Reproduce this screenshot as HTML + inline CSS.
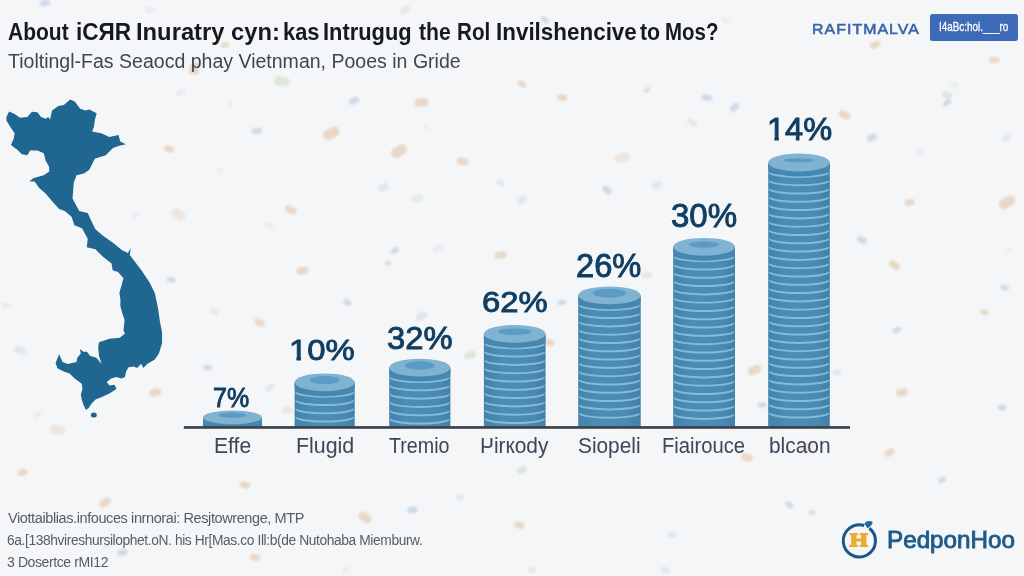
<!DOCTYPE html>
<html><head><meta charset="utf-8">
<style>
html,body{margin:0;padding:0;}
body{width:1024px;height:576px;overflow:hidden;background:#f4f6f8;position:relative;font-family:"Liberation Sans",sans-serif;}
.t{position:absolute;white-space:nowrap;line-height:1;transform-origin:0 0;}
svg{position:absolute;left:0;top:0;}
.one{display:inline-block;clip-path:polygon(0 0,100% 0,100% 0.715em,calc(0.34em + 0.7px) 0.715em,calc(0.34em + 0.7px) 100%,calc(0.2515em - 0.7px) 100%,calc(0.2515em - 0.7px) 0.715em,0 0.715em);}
#btn{position:absolute;left:930px;top:14px;width:88px;height:27px;background:#3e6bb7;border-radius:2.5px;}
</style></head><body>
<svg width="1024" height="576"><defs><filter id="bl" x="-50%" y="-50%" width="200%" height="200%"><feGaussianBlur stdDeviation="1.0"/></filter></defs>
<g filter="url(#bl)">
<rect x="188.70000000000002" y="68.35000000000001" width="10.2" height="6.1" rx="3.05" transform="rotate(4 193.8 71.4)" fill="#e0bf9e" opacity="0.55"/>
<rect x="274.15000000000003" y="76.7" width="15.3" height="9.2" rx="4.6" transform="rotate(8 281.8 81.3)" fill="#c4d3ad" opacity="0.45"/>
<rect x="175.20000000000002" y="89.55" width="10.2" height="6.1" rx="3.05" transform="rotate(-35 180.3 92.6)" fill="#dcdfe3" opacity="0.4"/>
<rect x="226.6" y="101.75" width="6.8" height="4.1" rx="2.05" transform="rotate(27 230 103.8)" fill="#dcdfe3" opacity="0.4"/>
<rect x="348.9" y="97.65" width="10.2" height="6.1" rx="3.05" transform="rotate(-21 354 100.7)" fill="#adc5de" opacity="0.55"/>
<rect x="414.9" y="98.4" width="13.6" height="8.2" rx="4.1" transform="rotate(-2 421.7 102.5)" fill="#e0bf9e" opacity="0.55"/>
<rect x="251.9" y="127.95" width="10.2" height="6.1" rx="3.05" transform="rotate(-2 257 131)" fill="#adc5de" opacity="0.55"/>
<rect x="323.0" y="128.1" width="17.0" height="10.2" rx="5.1" transform="rotate(-28 331.5 133.2)" fill="#e0bf9e" opacity="0.55"/>
<rect x="422.6" y="124.35000000000001" width="6.8" height="4.1" rx="2.05" transform="rotate(29 426 126.4)" fill="#dcdfe3" opacity="0.4"/>
<rect x="163.9" y="145.95" width="10.2" height="6.1" rx="3.05" transform="rotate(19 169 149)" fill="#e0bf9e" opacity="0.55"/>
<rect x="390.7" y="146.1" width="17.0" height="10.2" rx="5.1" transform="rotate(-35 399.2 151.2)" fill="#e0bf9e" opacity="0.55"/>
<rect x="456.45" y="158.04999999999998" width="11.9" height="7.1" rx="3.55" transform="rotate(7 462.4 161.6)" fill="#e0bf9e" opacity="0.55"/>
<rect x="378.29999999999995" y="184.25" width="10.2" height="6.1" rx="3.05" transform="rotate(-38 383.4 187.3)" fill="#bdd0e3" opacity="0.4"/>
<rect x="411.25" y="195.04999999999998" width="11.9" height="7.1" rx="3.55" transform="rotate(-2 417.2 198.6)" fill="#cfdac2" opacity="0.35"/>
<rect x="496.45" y="180.25" width="8.5" height="5.1" rx="2.55" transform="rotate(30 500.7 182.8)" fill="#bdd0e3" opacity="0.4"/>
<rect x="170.35" y="209.8" width="15.3" height="9.2" rx="4.6" transform="rotate(34 178 214.4)" fill="#e4cbb2" opacity="0.38"/>
<rect x="284.95" y="206.35" width="11.9" height="7.1" rx="3.55" transform="rotate(24 290.9 209.9)" fill="#e0bf9e" opacity="0.55"/>
<rect x="263.2" y="222.64999999999998" width="10.2" height="6.1" rx="3.05" transform="rotate(35 268.3 225.7)" fill="#dcdfe3" opacity="0.4"/>
<rect x="390.45" y="247.95" width="8.5" height="5.1" rx="2.55" transform="rotate(-32 394.7 250.5)" fill="#adc5de" opacity="0.55"/>
<rect x="432.4" y="245.14999999999998" width="10.2" height="6.1" rx="3.05" transform="rotate(-23 437.5 248.2)" fill="#dcdfe3" opacity="0.4"/>
<rect x="494.75" y="251.45" width="11.9" height="7.1" rx="3.55" transform="rotate(-5 500.7 255)" fill="#e0bf9e" opacity="0.55"/>
<rect x="384.5" y="261.05" width="6.8" height="4.1" rx="2.05" transform="rotate(-16 387.9 263.1)" fill="#e0bf9e" opacity="0.55"/>
<rect x="296.15000000000003" y="267.25" width="11.9" height="7.1" rx="3.55" transform="rotate(-9 302.1 270.8)" fill="#e0bf9e" opacity="0.55"/>
<rect x="167.05" y="277.25" width="8.5" height="5.1" rx="2.55" transform="rotate(7 171.3 279.8)" fill="#adc5de" opacity="0.55"/>
<rect x="343.05" y="299.84999999999997" width="8.5" height="5.1" rx="2.55" transform="rotate(32 347.3 302.4)" fill="#adc5de" opacity="0.55"/>
<rect x="209.95" y="308.84999999999997" width="8.5" height="5.1" rx="2.55" transform="rotate(34 214.2 311.4)" fill="#e4cbb2" opacity="0.38"/>
<rect x="253.35000000000002" y="319.15" width="11.9" height="7.1" rx="3.55" transform="rotate(39 259.3 322.7)" fill="#e4cbb2" opacity="0.38"/>
<rect x="415.75" y="312.45" width="11.9" height="7.1" rx="3.55" transform="rotate(-27 421.7 316)" fill="#bdd0e3" opacity="0.4"/>
<rect x="517.75" y="81.45" width="8.5" height="5.1" rx="2.55" transform="rotate(37 522 84)" fill="#e0bf9e" opacity="0.55"/>
<rect x="556.9" y="94.45" width="10.2" height="6.1" rx="3.05" transform="rotate(6 562 97.5)" fill="#e0bf9e" opacity="0.55"/>
<rect x="643.6" y="87.95" width="6.8" height="4.1" rx="2.05" transform="rotate(-23 647 90)" fill="#e0bf9e" opacity="0.55"/>
<rect x="701.9" y="94.45" width="10.2" height="6.1" rx="3.05" transform="rotate(6 707 97.5)" fill="#adc5de" opacity="0.55"/>
<rect x="729.4" y="104.45" width="10.2" height="6.1" rx="3.05" transform="rotate(-35 734.5 107.5)" fill="#adc5de" opacity="0.55"/>
<rect x="686.9" y="119.45" width="10.2" height="6.1" rx="3.05" transform="rotate(39 692 122.5)" fill="#e4cbb2" opacity="0.38"/>
<rect x="838.55" y="111.45" width="11.9" height="7.1" rx="3.55" transform="rotate(24 844.5 115)" fill="#e0bf9e" opacity="0.55"/>
<rect x="866.9" y="134.45" width="10.2" height="6.1" rx="3.05" transform="rotate(-28 872 137.5)" fill="#adc5de" opacity="0.55"/>
<rect x="941.9" y="91.95" width="10.2" height="6.1" rx="3.05" transform="rotate(22 947 95)" fill="#c4d3ad" opacity="0.45"/>
<rect x="942.75" y="99.95" width="8.5" height="5.1" rx="2.55" transform="rotate(-36 947 102.5)" fill="#adc5de" opacity="0.55"/>
<rect x="1002.75" y="134.95" width="8.5" height="5.1" rx="2.55" transform="rotate(-36 1007 137.5)" fill="#bdd0e3" opacity="0.4"/>
<rect x="614.35" y="152.9" width="15.3" height="9.2" rx="4.6" transform="rotate(-14 622 157.5)" fill="#e4cbb2" opacity="0.38"/>
<rect x="915.25" y="149.95" width="8.5" height="5.1" rx="2.55" transform="rotate(38 919.5 152.5)" fill="#dcdfe3" opacity="0.4"/>
<rect x="601.9" y="186.95" width="10.2" height="6.1" rx="3.05" transform="rotate(40 607 190)" fill="#adc5de" opacity="0.55"/>
<rect x="651.9" y="181.95" width="10.2" height="6.1" rx="3.05" transform="rotate(-34 657 185)" fill="#bdd0e3" opacity="0.4"/>
<rect x="516.9" y="196.95" width="10.2" height="6.1" rx="3.05" transform="rotate(-37 522 200)" fill="#bdd0e3" opacity="0.4"/>
<rect x="904.4" y="199.45" width="10.2" height="6.1" rx="3.05" transform="rotate(-7 909.5 202.5)" fill="#e0bf9e" opacity="0.55"/>
<rect x="998.5" y="197.4" width="17.0" height="10.2" rx="5.1" transform="rotate(-28 1007 202.5)" fill="#e0bf9e" opacity="0.55"/>
<rect x="856.9" y="236.95" width="10.2" height="6.1" rx="3.05" transform="rotate(29 862 240)" fill="#adc5de" opacity="0.55"/>
<rect x="888.55" y="261.45" width="11.9" height="7.1" rx="3.55" transform="rotate(37 894.5 265)" fill="#e0bf9e" opacity="0.55"/>
<rect x="641.9" y="271.95" width="10.2" height="6.1" rx="3.05" transform="rotate(-10 647 275)" fill="#e4cbb2" opacity="0.38"/>
<rect x="557.75" y="299.95" width="8.5" height="5.1" rx="2.55" transform="rotate(2 562 302.5)" fill="#adc5de" opacity="0.55"/>
<rect x="1000.25" y="284.95" width="8.5" height="5.1" rx="2.55" transform="rotate(8 1004.5 287.5)" fill="#adc5de" opacity="0.55"/>
<rect x="980.25" y="309.95" width="8.5" height="5.1" rx="2.55" transform="rotate(10 984.5 312.5)" fill="#e0bf9e" opacity="0.55"/>
<rect x="989.4" y="56.95" width="10.2" height="6.1" rx="3.05" transform="rotate(1 994.5 60)" fill="#e0bf9e" opacity="0.55"/>
<rect x="14.05" y="346.45" width="11.9" height="7.1" rx="3.55" transform="rotate(18 20 350)" fill="#bdd0e3" opacity="0.4"/>
<rect x="149.05" y="388.95" width="11.9" height="7.1" rx="3.55" transform="rotate(-16 155 392.5)" fill="#e0bf9e" opacity="0.55"/>
<rect x="203.25" y="364.95" width="8.5" height="5.1" rx="2.55" transform="rotate(2 207.5 367.5)" fill="#adc5de" opacity="0.55"/>
<rect x="265.75" y="384.95" width="8.5" height="5.1" rx="2.55" transform="rotate(-39 270 387.5)" fill="#bdd0e3" opacity="0.4"/>
<rect x="254.9" y="319.45" width="10.2" height="6.1" rx="3.05" transform="rotate(6 260 322.5)" fill="#e4cbb2" opacity="0.38"/>
<rect x="49.85" y="425.4" width="15.3" height="9.2" rx="4.6" transform="rotate(9 57.5 430)" fill="#e4cbb2" opacity="0.38"/>
<rect x="33.25" y="412.45" width="8.5" height="5.1" rx="2.55" transform="rotate(-35 37.5 415)" fill="#dcdfe3" opacity="0.4"/>
<rect x="282.4" y="406.95" width="10.2" height="6.1" rx="3.05" transform="rotate(-3 287.5 410)" fill="#e4cbb2" opacity="0.38"/>
<rect x="17.4" y="469.45" width="10.2" height="6.1" rx="3.05" transform="rotate(-12 22.5 472.5)" fill="#e0bf9e" opacity="0.55"/>
<rect x="239.9" y="481.95" width="10.2" height="6.1" rx="3.05" transform="rotate(19 245 485)" fill="#e0bf9e" opacity="0.55"/>
<rect x="99.05" y="498.95" width="11.9" height="7.1" rx="3.55" transform="rotate(-35 105 502.5)" fill="#e0bf9e" opacity="0.55"/>
<rect x="358.2" y="513.4" width="13.6" height="8.2" rx="4.1" transform="rotate(37 365 517.5)" fill="#e0bf9e" opacity="0.55"/>
<rect x="407.4" y="506.95" width="10.2" height="6.1" rx="3.05" transform="rotate(-3 412.5 510)" fill="#adc5de" opacity="0.55"/>
<rect x="455.75" y="494.95" width="8.5" height="5.1" rx="2.55" transform="rotate(-14 460 497.5)" fill="#bdd0e3" opacity="0.4"/>
<rect x="464.05" y="351.45" width="11.9" height="7.1" rx="3.55" transform="rotate(-15 470 355)" fill="#c4d3ad" opacity="0.45"/>
<rect x="249.9" y="554.45" width="10.2" height="6.1" rx="3.05" transform="rotate(8 255 557.5)" fill="#e0bf9e" opacity="0.55"/>
<rect x="117.4" y="549.45" width="10.2" height="6.1" rx="3.05" transform="rotate(-10 122.5 552.5)" fill="#adc5de" opacity="0.55"/>
<rect x="103.25" y="542.45" width="8.5" height="5.1" rx="2.55" transform="rotate(-38 107.5 545)" fill="#dcdfe3" opacity="0.4"/>
<rect x="544.4" y="339.45" width="10.2" height="6.1" rx="3.05" transform="rotate(19 549.5 342.5)" fill="#e0bf9e" opacity="0.55"/>
<rect x="747.7" y="365.9" width="13.6" height="8.2" rx="4.1" transform="rotate(-22 754.5 370)" fill="#e0bf9e" opacity="0.55"/>
<rect x="832.75" y="369.95" width="8.5" height="5.1" rx="2.55" transform="rotate(-21 837 372.5)" fill="#bdd0e3" opacity="0.4"/>
<rect x="757.75" y="402.45" width="8.5" height="5.1" rx="2.55" transform="rotate(-5 762 405)" fill="#adc5de" opacity="0.55"/>
<rect x="892.75" y="327.45" width="8.5" height="5.1" rx="2.55" transform="rotate(-32 897 330)" fill="#adc5de" opacity="0.55"/>
<rect x="896.05" y="388.95" width="11.9" height="7.1" rx="3.55" transform="rotate(-13 902 392.5)" fill="#e0bf9e" opacity="0.55"/>
<rect x="997.75" y="404.95" width="8.5" height="5.1" rx="2.55" transform="rotate(-5 1002 407.5)" fill="#adc5de" opacity="0.55"/>
<rect x="884.4" y="449.45" width="10.2" height="6.1" rx="3.05" transform="rotate(-26 889.5 452.5)" fill="#e0bf9e" opacity="0.55"/>
<rect x="741.05" y="453.95" width="11.9" height="7.1" rx="3.55" transform="rotate(12 747 457.5)" fill="#e0bf9e" opacity="0.55"/>
<rect x="800.2" y="443.4" width="13.6" height="8.2" rx="4.1" transform="rotate(-4 807 447.5)" fill="#e4cbb2" opacity="0.38"/>
<rect x="516.9" y="466.95" width="10.2" height="6.1" rx="3.05" transform="rotate(-30 522 470)" fill="#c4d3ad" opacity="0.45"/>
<rect x="937.75" y="477.45" width="8.5" height="5.1" rx="2.55" transform="rotate(-25 942 480)" fill="#adc5de" opacity="0.55"/>
<rect x="785.25" y="502.45" width="8.5" height="5.1" rx="2.55" transform="rotate(27 789.5 505)" fill="#adc5de" opacity="0.55"/>
<rect x="808.6" y="510.45" width="6.8" height="4.1" rx="2.05" transform="rotate(-18 812 512.5)" fill="#e0bf9e" opacity="0.55"/>
<rect x="514.4" y="521.95" width="10.2" height="6.1" rx="3.05" transform="rotate(11 519.5 525)" fill="#e0bf9e" opacity="0.55"/>
<rect x="667.75" y="532.45" width="8.5" height="5.1" rx="2.55" transform="rotate(-12 672 535)" fill="#bdd0e3" opacity="0.4"/>
<rect x="527.75" y="567.45" width="8.5" height="5.1" rx="2.55" transform="rotate(-17 532 570)" fill="#e4cbb2" opacity="0.38"/>
<rect x="39.9" y="-0.04999999999999982" width="10.2" height="6.1" rx="3.05" transform="rotate(-18 45 3)" fill="#adc5de" opacity="0.55"/>
<rect x="220.75" y="42.45" width="8.5" height="5.1" rx="2.55" transform="rotate(-7 225 45)" fill="#e0bf9e" opacity="0.55"/>
<rect x="144.9" y="6.95" width="10.2" height="6.1" rx="3.05" transform="rotate(-7 150 10)" fill="#dcdfe3" opacity="0.4"/>
<rect x="399.9" y="6.95" width="10.2" height="6.1" rx="3.05" transform="rotate(-28 405 10)" fill="#e4cbb2" opacity="0.38"/>
<rect x="466.6" y="32.95" width="6.8" height="4.1" rx="2.05" transform="rotate(35 470 35)" fill="#dcdfe3" opacity="0.4"/>
<rect x="540.75" y="17.45" width="8.5" height="5.1" rx="2.55" transform="rotate(39 545 20)" fill="#adc5de" opacity="0.55"/>
<rect x="720.75" y="17.45" width="8.5" height="5.1" rx="2.55" transform="rotate(36 725 20)" fill="#dcdfe3" opacity="0.4"/>
<rect x="869.9" y="41.95" width="10.2" height="6.1" rx="3.05" transform="rotate(-22 875 45)" fill="#e0bf9e" opacity="0.55"/>
<rect x="950.75" y="82.45" width="8.5" height="5.1" rx="2.55" transform="rotate(27 955 85)" fill="#dcdfe3" opacity="0.4"/>
<rect x="36.6" y="582.95" width="6.8" height="4.1" rx="2.05" transform="rotate(2 40 585)" fill="#dcdfe3" opacity="0.4"/>
<rect x="1.75" y="302.45" width="8.5" height="5.1" rx="2.55" transform="rotate(-13 6 305)" fill="#dcdfe3" opacity="0.4"/>
<rect x="130.75" y="212.45" width="8.5" height="5.1" rx="2.55" transform="rotate(-35 135 215)" fill="#dcdfe3" opacity="0.4"/>
<rect x="216.6" y="167.95" width="6.8" height="4.1" rx="2.05" transform="rotate(-17 220 170)" fill="#dcdfe3" opacity="0.4"/>
<rect x="340.75" y="567.45" width="8.5" height="5.1" rx="2.55" transform="rotate(-36 345 570)" fill="#dcdfe3" opacity="0.4"/>
<rect x="660.75" y="567.45" width="8.5" height="5.1" rx="2.55" transform="rotate(15 665 570)" fill="#bdd0e3" opacity="0.4"/>
<rect x="890.75" y="537.45" width="8.5" height="5.1" rx="2.55" transform="rotate(32 895 540)" fill="#dcdfe3" opacity="0.4"/>
<rect x="1006.6" y="247.95" width="6.8" height="4.1" rx="2.05" transform="rotate(6 1010 250)" fill="#dcdfe3" opacity="0.4"/>
<rect x="189.5" y="62.75" width="11" height="6.5" rx="3.25" transform="rotate(-20 195 66)" fill="#e0bf9e" opacity="0.5"/>
</g></svg>
<div id="btn"></div>
<svg width="1024" height="576">
<path fill="#1f6691" d="M6.4,116.9 L9.1,111.4 L14.6,114.1 L20,117.8 L27.3,116.9 L31.9,111.8 L37.4,112.3 L41,116.9 L45.6,118.7 L48.3,116.9 L50.1,119.6 L52,110.5 L58.3,105.9 L63.8,105 L70.2,99.6 L74.7,101.4 L80.2,108.7 L85.7,110.5 L89.3,109.6 L96.6,113.2 L94.8,120.5 L93.9,126.9 L92.1,131.5 L101.2,133.3 L109.4,136.9 L118.5,135.1 L120.3,141.5 L125.8,144.2 L118.5,146 L113,147.9 L105.7,155.2 L94.8,158.8 L91.2,166.1 L89.3,169.7 L83.9,173.4 L76.6,175.2 L73.8,182.5 L72.5,198.6 L77.2,207.2 L79.2,211 L87.7,212.9 L91.6,221.5 L95.4,229.2 L103,235.8 L112.6,242.5 L122.1,250.2 L127.9,253 L130.7,248.2 L129.8,254.9 L135.5,262.6 L141.25,270 L149.6,282.5 L154.8,292.9 L157.9,307.5 L160,322 L162.1,332.5 L162.1,342.9 L159,353.3 L154.8,359.6 L147.5,363.75 L143.3,367.9 L141.25,363.75 L137.1,367.9 L133.75,366.5 L128.5,367.3 L126,371.7 L125,376.9 L121.6,378.6 L116.4,376.9 L111.2,378.6 L106.8,382.1 L109.4,385.6 L114.6,384.7 L116.4,389 L109.4,393.4 L102.5,396.8 L95.6,399.4 L92.1,402.9 L88.6,408.1 L86,409.9 L83.4,404.7 L81.7,399.4 L80.8,394.2 L82.5,389 L81.7,383.8 L74.7,378.6 L69.5,373.4 L64.3,371.7 L57.4,368.2 L55.6,363 L57.4,358.6 L59.1,354.3 L62.6,362.1 L67.8,363.9 L76.5,362.1 L77.3,357.8 L80.8,353.4 L79.9,349.1 L83.4,351.7 L86.9,351.7 L90.3,356 L96.4,357.8 L101.6,363.9 L99,356 L98.2,347.4 L99,342.2 L109.4,338.7 L119.9,337.8 L125,333.5 L123.5,330.4 L124.6,320 L122.5,313.75 L120.4,306.5 L120.4,299.2 L119.4,292.9 L121.5,285.6 L123.5,278.3 L118,272 L112.6,270.2 L111.6,263.5 L103,256.8 L95.4,249.2 L86.8,247.3 L87.7,238.7 L82,228.2 L74.4,225.3 L71.5,216.7 L64.8,211 L59.1,209.1 L51.5,200.5 L45.6,193.4 L39.2,188 L34.6,181.6 L29.2,181.6 L33.7,178 L43.8,175.2 L49.2,171.6 L49.2,167 L45.6,160.6 L43.8,153.3 L37.4,150.6 L30.1,150.6 L27.3,155.2 L21.9,154.3 L17.3,149.7 L10.9,145.1 L13.7,138.8 L14.6,133.3 L10.9,127.8 L6.4,120.5 Z"/>
<ellipse cx="93.8" cy="415" rx="3" ry="2.5" fill="#1f6691"/>
</svg>
<svg width="1024" height="576">
<defs><clipPath id="cb"><rect x="0" y="0" width="1024" height="427"/></clipPath></defs><g clip-path="url(#cb)">
<defs><linearGradient id="bodyg" x1="0" x2="1" y1="0" y2="0"><stop offset="0" stop-color="#4383ab"/><stop offset="0.3" stop-color="#4b8db6"/><stop offset="0.75" stop-color="#4a8bb4"/><stop offset="1" stop-color="#4380a9"/></linearGradient></defs>
<path d="M203,417.40000000000003 L203,427 L262,427 L262,417.40000000000003 Z" fill="url(#bodyg)"/>
<path d="M203,417.40000000000003 A29.5,6.8 0 0 0 262,417.40000000000003 L262,422.40000000000003 A29.5,6.8 0 0 1 203,422.40000000000003 Z" fill="#4687b0"/>
<ellipse cx="232.5" cy="417.40000000000003" rx="29.5" ry="6.8" fill="#80b3d2"/>
<ellipse cx="232.5" cy="415.20000000000005" rx="13.864999999999998" ry="2.72" fill="#5c9bc3"/>
<path d="M294.6,382.29999999999995 L294.6,427 L354.7,427 L354.7,382.29999999999995 Z" fill="url(#bodyg)"/>
<path d="M296.1,392.19999999999993 A28.549999999999983,4.5 0 0 0 353.2,392.19999999999993" fill="none" stroke="#8fc2df" stroke-width="2.0" opacity="0.85"/>
<path d="M296.1,400.49999999999994 A28.549999999999983,4.5 0 0 0 353.2,400.49999999999994" fill="none" stroke="#8fc2df" stroke-width="2.0" opacity="0.85"/>
<path d="M296.1,408.79999999999995 A28.549999999999983,4.5 0 0 0 353.2,408.79999999999995" fill="none" stroke="#8fc2df" stroke-width="2.0" opacity="0.85"/>
<path d="M296.1,417.09999999999997 A28.549999999999983,4.5 0 0 0 353.2,417.09999999999997" fill="none" stroke="#8fc2df" stroke-width="2.0" opacity="0.85"/>
<path d="M294.6,382.29999999999995 A30.049999999999983,8.9 0 0 0 354.7,382.29999999999995 L354.7,387.29999999999995 A30.049999999999983,8.9 0 0 1 294.6,387.29999999999995 Z" fill="#4687b0"/>
<ellipse cx="324.65" cy="382.29999999999995" rx="30.049999999999983" ry="8.9" fill="#80b3d2"/>
<ellipse cx="324.65" cy="380.09999999999997" rx="15.024999999999991" ry="4.005" fill="#5c9bc3"/>
<path d="M389.2,367.65 L389.2,427 L450.4,427 L450.4,367.65 Z" fill="url(#bodyg)"/>
<path d="M390.7,377.54999999999995 A29.099999999999994,4.5 0 0 0 448.9,377.54999999999995" fill="none" stroke="#8fc2df" stroke-width="2.0" opacity="0.85"/>
<path d="M390.7,385.84999999999997 A29.099999999999994,4.5 0 0 0 448.9,385.84999999999997" fill="none" stroke="#8fc2df" stroke-width="2.0" opacity="0.85"/>
<path d="M390.7,394.15 A29.099999999999994,4.5 0 0 0 448.9,394.15" fill="none" stroke="#8fc2df" stroke-width="2.0" opacity="0.85"/>
<path d="M390.7,402.45 A29.099999999999994,4.5 0 0 0 448.9,402.45" fill="none" stroke="#8fc2df" stroke-width="2.0" opacity="0.85"/>
<path d="M390.7,410.75 A29.099999999999994,4.5 0 0 0 448.9,410.75" fill="none" stroke="#8fc2df" stroke-width="2.0" opacity="0.85"/>
<path d="M390.7,419.05 A29.099999999999994,4.5 0 0 0 448.9,419.05" fill="none" stroke="#8fc2df" stroke-width="2.0" opacity="0.85"/>
<path d="M389.2,367.65 A30.599999999999994,8.9 0 0 0 450.4,367.65 L450.4,372.65 A30.599999999999994,8.9 0 0 1 389.2,372.65 Z" fill="#4687b0"/>
<ellipse cx="419.79999999999995" cy="367.65" rx="30.599999999999994" ry="8.9" fill="#80b3d2"/>
<ellipse cx="419.79999999999995" cy="365.45" rx="14.993999999999996" ry="4.183" fill="#5c9bc3"/>
<path d="M483.9,333.9 L483.9,427 L545.6,427 L545.6,333.9 Z" fill="url(#bodyg)"/>
<path d="M485.4,343.79999999999995 A29.350000000000023,4.5 0 0 0 544.1,343.79999999999995" fill="none" stroke="#8fc2df" stroke-width="2.0" opacity="0.85"/>
<path d="M485.4,352.09999999999997 A29.350000000000023,4.5 0 0 0 544.1,352.09999999999997" fill="none" stroke="#8fc2df" stroke-width="2.0" opacity="0.85"/>
<path d="M485.4,360.4 A29.350000000000023,4.5 0 0 0 544.1,360.4" fill="none" stroke="#8fc2df" stroke-width="2.0" opacity="0.85"/>
<path d="M485.4,368.7 A29.350000000000023,4.5 0 0 0 544.1,368.7" fill="none" stroke="#8fc2df" stroke-width="2.0" opacity="0.85"/>
<path d="M485.4,377.0 A29.350000000000023,4.5 0 0 0 544.1,377.0" fill="none" stroke="#8fc2df" stroke-width="2.0" opacity="0.85"/>
<path d="M485.4,385.3 A29.350000000000023,4.5 0 0 0 544.1,385.3" fill="none" stroke="#8fc2df" stroke-width="2.0" opacity="0.85"/>
<path d="M485.4,393.6 A29.350000000000023,4.5 0 0 0 544.1,393.6" fill="none" stroke="#8fc2df" stroke-width="2.0" opacity="0.85"/>
<path d="M485.4,401.90000000000003 A29.350000000000023,4.5 0 0 0 544.1,401.90000000000003" fill="none" stroke="#8fc2df" stroke-width="2.0" opacity="0.85"/>
<path d="M485.4,410.20000000000005 A29.350000000000023,4.5 0 0 0 544.1,410.20000000000005" fill="none" stroke="#8fc2df" stroke-width="2.0" opacity="0.85"/>
<path d="M485.4,418.50000000000006 A29.350000000000023,4.5 0 0 0 544.1,418.50000000000006" fill="none" stroke="#8fc2df" stroke-width="2.0" opacity="0.85"/>
<path d="M483.9,333.9 A30.850000000000023,8.9 0 0 0 545.6,333.9 L545.6,338.9 A30.850000000000023,8.9 0 0 1 483.9,338.9 Z" fill="#4687b0"/>
<ellipse cx="514.75" cy="333.9" rx="30.850000000000023" ry="8.9" fill="#80b3d2"/>
<ellipse cx="514.75" cy="331.7" rx="16.659000000000013" ry="3.293" fill="#5c9bc3"/>
<path d="M578.2,295.4 L578.2,427 L640.7,427 L640.7,295.4 Z" fill="url(#bodyg)"/>
<path d="M579.7,305.29999999999995 A29.75,4.5 0 0 0 639.2,305.29999999999995" fill="none" stroke="#8fc2df" stroke-width="2.0" opacity="0.85"/>
<path d="M579.7,313.59999999999997 A29.75,4.5 0 0 0 639.2,313.59999999999997" fill="none" stroke="#8fc2df" stroke-width="2.0" opacity="0.85"/>
<path d="M579.7,321.9 A29.75,4.5 0 0 0 639.2,321.9" fill="none" stroke="#8fc2df" stroke-width="2.0" opacity="0.85"/>
<path d="M579.7,330.2 A29.75,4.5 0 0 0 639.2,330.2" fill="none" stroke="#8fc2df" stroke-width="2.0" opacity="0.85"/>
<path d="M579.7,338.5 A29.75,4.5 0 0 0 639.2,338.5" fill="none" stroke="#8fc2df" stroke-width="2.0" opacity="0.85"/>
<path d="M579.7,346.8 A29.75,4.5 0 0 0 639.2,346.8" fill="none" stroke="#8fc2df" stroke-width="2.0" opacity="0.85"/>
<path d="M579.7,355.1 A29.75,4.5 0 0 0 639.2,355.1" fill="none" stroke="#8fc2df" stroke-width="2.0" opacity="0.85"/>
<path d="M579.7,363.40000000000003 A29.75,4.5 0 0 0 639.2,363.40000000000003" fill="none" stroke="#8fc2df" stroke-width="2.0" opacity="0.85"/>
<path d="M579.7,371.70000000000005 A29.75,4.5 0 0 0 639.2,371.70000000000005" fill="none" stroke="#8fc2df" stroke-width="2.0" opacity="0.85"/>
<path d="M579.7,380.00000000000006 A29.75,4.5 0 0 0 639.2,380.00000000000006" fill="none" stroke="#8fc2df" stroke-width="2.0" opacity="0.85"/>
<path d="M579.7,388.30000000000007 A29.75,4.5 0 0 0 639.2,388.30000000000007" fill="none" stroke="#8fc2df" stroke-width="2.0" opacity="0.85"/>
<path d="M579.7,396.6000000000001 A29.75,4.5 0 0 0 639.2,396.6000000000001" fill="none" stroke="#8fc2df" stroke-width="2.0" opacity="0.85"/>
<path d="M579.7,404.9000000000001 A29.75,4.5 0 0 0 639.2,404.9000000000001" fill="none" stroke="#8fc2df" stroke-width="2.0" opacity="0.85"/>
<path d="M579.7,413.2000000000001 A29.75,4.5 0 0 0 639.2,413.2000000000001" fill="none" stroke="#8fc2df" stroke-width="2.0" opacity="0.85"/>
<path d="M578.2,295.4 A31.25,8.9 0 0 0 640.7,295.4 L640.7,300.4 A31.25,8.9 0 0 1 578.2,300.4 Z" fill="#4687b0"/>
<ellipse cx="609.45" cy="295.4" rx="31.25" ry="8.9" fill="#80b3d2"/>
<ellipse cx="609.45" cy="293.2" rx="16.5625" ry="4.45" fill="#5c9bc3"/>
<path d="M673.2,246.8 L673.2,427 L735,427 L735,246.8 Z" fill="url(#bodyg)"/>
<path d="M674.7,256.70000000000005 A29.399999999999977,4.5 0 0 0 733.5,256.70000000000005" fill="none" stroke="#8fc2df" stroke-width="2.0" opacity="0.85"/>
<path d="M674.7,265.00000000000006 A29.399999999999977,4.5 0 0 0 733.5,265.00000000000006" fill="none" stroke="#8fc2df" stroke-width="2.0" opacity="0.85"/>
<path d="M674.7,273.30000000000007 A29.399999999999977,4.5 0 0 0 733.5,273.30000000000007" fill="none" stroke="#8fc2df" stroke-width="2.0" opacity="0.85"/>
<path d="M674.7,281.6000000000001 A29.399999999999977,4.5 0 0 0 733.5,281.6000000000001" fill="none" stroke="#8fc2df" stroke-width="2.0" opacity="0.85"/>
<path d="M674.7,289.9000000000001 A29.399999999999977,4.5 0 0 0 733.5,289.9000000000001" fill="none" stroke="#8fc2df" stroke-width="2.0" opacity="0.85"/>
<path d="M674.7,298.2000000000001 A29.399999999999977,4.5 0 0 0 733.5,298.2000000000001" fill="none" stroke="#8fc2df" stroke-width="2.0" opacity="0.85"/>
<path d="M674.7,306.5000000000001 A29.399999999999977,4.5 0 0 0 733.5,306.5000000000001" fill="none" stroke="#8fc2df" stroke-width="2.0" opacity="0.85"/>
<path d="M674.7,314.8000000000001 A29.399999999999977,4.5 0 0 0 733.5,314.8000000000001" fill="none" stroke="#8fc2df" stroke-width="2.0" opacity="0.85"/>
<path d="M674.7,323.10000000000014 A29.399999999999977,4.5 0 0 0 733.5,323.10000000000014" fill="none" stroke="#8fc2df" stroke-width="2.0" opacity="0.85"/>
<path d="M674.7,331.40000000000015 A29.399999999999977,4.5 0 0 0 733.5,331.40000000000015" fill="none" stroke="#8fc2df" stroke-width="2.0" opacity="0.85"/>
<path d="M674.7,339.70000000000016 A29.399999999999977,4.5 0 0 0 733.5,339.70000000000016" fill="none" stroke="#8fc2df" stroke-width="2.0" opacity="0.85"/>
<path d="M674.7,348.00000000000017 A29.399999999999977,4.5 0 0 0 733.5,348.00000000000017" fill="none" stroke="#8fc2df" stroke-width="2.0" opacity="0.85"/>
<path d="M674.7,356.3000000000002 A29.399999999999977,4.5 0 0 0 733.5,356.3000000000002" fill="none" stroke="#8fc2df" stroke-width="2.0" opacity="0.85"/>
<path d="M674.7,364.6000000000002 A29.399999999999977,4.5 0 0 0 733.5,364.6000000000002" fill="none" stroke="#8fc2df" stroke-width="2.0" opacity="0.85"/>
<path d="M674.7,372.9000000000002 A29.399999999999977,4.5 0 0 0 733.5,372.9000000000002" fill="none" stroke="#8fc2df" stroke-width="2.0" opacity="0.85"/>
<path d="M674.7,381.2000000000002 A29.399999999999977,4.5 0 0 0 733.5,381.2000000000002" fill="none" stroke="#8fc2df" stroke-width="2.0" opacity="0.85"/>
<path d="M674.7,389.5000000000002 A29.399999999999977,4.5 0 0 0 733.5,389.5000000000002" fill="none" stroke="#8fc2df" stroke-width="2.0" opacity="0.85"/>
<path d="M674.7,397.80000000000024 A29.399999999999977,4.5 0 0 0 733.5,397.80000000000024" fill="none" stroke="#8fc2df" stroke-width="2.0" opacity="0.85"/>
<path d="M674.7,406.10000000000025 A29.399999999999977,4.5 0 0 0 733.5,406.10000000000025" fill="none" stroke="#8fc2df" stroke-width="2.0" opacity="0.85"/>
<path d="M674.7,414.40000000000026 A29.399999999999977,4.5 0 0 0 733.5,414.40000000000026" fill="none" stroke="#8fc2df" stroke-width="2.0" opacity="0.85"/>
<path d="M673.2,246.8 A30.899999999999977,8.9 0 0 0 735,246.8 L735,251.8 A30.899999999999977,8.9 0 0 1 673.2,251.8 Z" fill="#4687b0"/>
<ellipse cx="704.1" cy="246.8" rx="30.899999999999977" ry="8.9" fill="#80b3d2"/>
<ellipse cx="704.1" cy="244.60000000000002" rx="15.449999999999989" ry="3.0260000000000002" fill="#5c9bc3"/>
<path d="M768.2,162.5 L768.2,427 L829.8,427 L829.8,162.5 Z" fill="url(#bodyg)"/>
<path d="M769.7,172.4 A29.299999999999955,4.5 0 0 0 828.3,172.4" fill="none" stroke="#8fc2df" stroke-width="2.0" opacity="0.85"/>
<path d="M769.7,180.70000000000002 A29.299999999999955,4.5 0 0 0 828.3,180.70000000000002" fill="none" stroke="#8fc2df" stroke-width="2.0" opacity="0.85"/>
<path d="M769.7,189.00000000000003 A29.299999999999955,4.5 0 0 0 828.3,189.00000000000003" fill="none" stroke="#8fc2df" stroke-width="2.0" opacity="0.85"/>
<path d="M769.7,197.30000000000004 A29.299999999999955,4.5 0 0 0 828.3,197.30000000000004" fill="none" stroke="#8fc2df" stroke-width="2.0" opacity="0.85"/>
<path d="M769.7,205.60000000000005 A29.299999999999955,4.5 0 0 0 828.3,205.60000000000005" fill="none" stroke="#8fc2df" stroke-width="2.0" opacity="0.85"/>
<path d="M769.7,213.90000000000006 A29.299999999999955,4.5 0 0 0 828.3,213.90000000000006" fill="none" stroke="#8fc2df" stroke-width="2.0" opacity="0.85"/>
<path d="M769.7,222.20000000000007 A29.299999999999955,4.5 0 0 0 828.3,222.20000000000007" fill="none" stroke="#8fc2df" stroke-width="2.0" opacity="0.85"/>
<path d="M769.7,230.50000000000009 A29.299999999999955,4.5 0 0 0 828.3,230.50000000000009" fill="none" stroke="#8fc2df" stroke-width="2.0" opacity="0.85"/>
<path d="M769.7,238.8000000000001 A29.299999999999955,4.5 0 0 0 828.3,238.8000000000001" fill="none" stroke="#8fc2df" stroke-width="2.0" opacity="0.85"/>
<path d="M769.7,247.1000000000001 A29.299999999999955,4.5 0 0 0 828.3,247.1000000000001" fill="none" stroke="#8fc2df" stroke-width="2.0" opacity="0.85"/>
<path d="M769.7,255.4000000000001 A29.299999999999955,4.5 0 0 0 828.3,255.4000000000001" fill="none" stroke="#8fc2df" stroke-width="2.0" opacity="0.85"/>
<path d="M769.7,263.7000000000001 A29.299999999999955,4.5 0 0 0 828.3,263.7000000000001" fill="none" stroke="#8fc2df" stroke-width="2.0" opacity="0.85"/>
<path d="M769.7,272.0000000000001 A29.299999999999955,4.5 0 0 0 828.3,272.0000000000001" fill="none" stroke="#8fc2df" stroke-width="2.0" opacity="0.85"/>
<path d="M769.7,280.3000000000001 A29.299999999999955,4.5 0 0 0 828.3,280.3000000000001" fill="none" stroke="#8fc2df" stroke-width="2.0" opacity="0.85"/>
<path d="M769.7,288.60000000000014 A29.299999999999955,4.5 0 0 0 828.3,288.60000000000014" fill="none" stroke="#8fc2df" stroke-width="2.0" opacity="0.85"/>
<path d="M769.7,296.90000000000015 A29.299999999999955,4.5 0 0 0 828.3,296.90000000000015" fill="none" stroke="#8fc2df" stroke-width="2.0" opacity="0.85"/>
<path d="M769.7,305.20000000000016 A29.299999999999955,4.5 0 0 0 828.3,305.20000000000016" fill="none" stroke="#8fc2df" stroke-width="2.0" opacity="0.85"/>
<path d="M769.7,313.50000000000017 A29.299999999999955,4.5 0 0 0 828.3,313.50000000000017" fill="none" stroke="#8fc2df" stroke-width="2.0" opacity="0.85"/>
<path d="M769.7,321.8000000000002 A29.299999999999955,4.5 0 0 0 828.3,321.8000000000002" fill="none" stroke="#8fc2df" stroke-width="2.0" opacity="0.85"/>
<path d="M769.7,330.1000000000002 A29.299999999999955,4.5 0 0 0 828.3,330.1000000000002" fill="none" stroke="#8fc2df" stroke-width="2.0" opacity="0.85"/>
<path d="M769.7,338.4000000000002 A29.299999999999955,4.5 0 0 0 828.3,338.4000000000002" fill="none" stroke="#8fc2df" stroke-width="2.0" opacity="0.85"/>
<path d="M769.7,346.7000000000002 A29.299999999999955,4.5 0 0 0 828.3,346.7000000000002" fill="none" stroke="#8fc2df" stroke-width="2.0" opacity="0.85"/>
<path d="M769.7,355.0000000000002 A29.299999999999955,4.5 0 0 0 828.3,355.0000000000002" fill="none" stroke="#8fc2df" stroke-width="2.0" opacity="0.85"/>
<path d="M769.7,363.30000000000024 A29.299999999999955,4.5 0 0 0 828.3,363.30000000000024" fill="none" stroke="#8fc2df" stroke-width="2.0" opacity="0.85"/>
<path d="M769.7,371.60000000000025 A29.299999999999955,4.5 0 0 0 828.3,371.60000000000025" fill="none" stroke="#8fc2df" stroke-width="2.0" opacity="0.85"/>
<path d="M769.7,379.90000000000026 A29.299999999999955,4.5 0 0 0 828.3,379.90000000000026" fill="none" stroke="#8fc2df" stroke-width="2.0" opacity="0.85"/>
<path d="M769.7,388.2000000000003 A29.299999999999955,4.5 0 0 0 828.3,388.2000000000003" fill="none" stroke="#8fc2df" stroke-width="2.0" opacity="0.85"/>
<path d="M769.7,396.5000000000003 A29.299999999999955,4.5 0 0 0 828.3,396.5000000000003" fill="none" stroke="#8fc2df" stroke-width="2.0" opacity="0.85"/>
<path d="M769.7,404.8000000000003 A29.299999999999955,4.5 0 0 0 828.3,404.8000000000003" fill="none" stroke="#8fc2df" stroke-width="2.0" opacity="0.85"/>
<path d="M769.7,413.1000000000003 A29.299999999999955,4.5 0 0 0 828.3,413.1000000000003" fill="none" stroke="#8fc2df" stroke-width="2.0" opacity="0.85"/>
<path d="M768.2,162.5 A30.799999999999955,8.9 0 0 0 829.8,162.5 L829.8,167.5 A30.799999999999955,8.9 0 0 1 768.2,167.5 Z" fill="#4687b0"/>
<ellipse cx="799.0" cy="162.5" rx="30.799999999999955" ry="8.9" fill="#80b3d2"/>
<ellipse cx="799.0" cy="160.3" rx="15.399999999999977" ry="2.136" fill="#5c9bc3"/>
</g>
<rect x="183.8" y="426.1" width="666.2" height="2.7" fill="#3c424b"/>
</svg>
<svg width="1024" height="576">
<path d="M 869.382,528.242 A16.1,16.1 0 1 1 864.23,525.505" fill="none" stroke="#1b5784" stroke-width="3"/>
<path d="M864.5,523.5 Q866,520.5 869,521 L872.5,521.5 Q873,524 870.5,526 L867.5,528.5 Z" fill="#2067a6"/>
<path fill="#eeaa2c" d="M849.5,533 H857.8 V535.2 H856.4 V538.6 H861.2 V535.2 H859.8 V533 H868 V535.2 H866.4 V544.8 H868 V547 H859.6 V544.8 H861.2 V541.4 H856.4 V544.8 H858 V547 H849.2 V544.8 H851.2 V535.2 H849.5 Z"/>
</svg>
<div class="t" id="title0" style="left:7.55px;top:21.10px;font-size:23px;color:#161a20;font-weight:bold;transform:scaleX(0.9135);">About</div>
<div class="t" id="title1" style="left:76.38px;top:21.10px;font-size:23px;color:#161a20;font-weight:bold;transform:scaleX(0.9820);">iCЯR</div>
<div class="t" id="title2" style="left:135.90px;top:21.10px;font-size:23px;color:#161a20;font-weight:bold;transform:scaleX(1.0333);">Inuratry</div>
<div class="t" id="title3" style="left:230.87px;top:21.10px;font-size:23px;color:#161a20;font-weight:bold;transform:scaleX(1.0326);">cyn:</div>
<div class="t" id="title4" style="left:282.60px;top:21.10px;font-size:23px;color:#161a20;font-weight:bold;transform:scaleX(0.9500);">kas</div>
<div class="t" id="title5" style="left:323.49px;top:21.10px;font-size:23px;color:#161a20;font-weight:bold;transform:scaleX(0.9504);">Intrugug</div>
<div class="t" id="title6" style="left:418.61px;top:21.10px;font-size:23px;color:#161a20;font-weight:bold;transform:scaleX(0.9203);">the</div>
<div class="t" id="title7" style="left:456.83px;top:21.10px;font-size:23px;color:#161a20;font-weight:bold;transform:scaleX(0.8961);">Rol</div>
<div class="t" id="title8" style="left:495.58px;top:21.10px;font-size:23px;color:#161a20;font-weight:bold;transform:scaleX(0.9747);">Invilshencive</div>
<div class="t" id="title9" style="left:640.23px;top:21.10px;font-size:23px;color:#161a20;font-weight:bold;transform:scaleX(0.9298);">to</div>
<div class="t" id="title10" style="left:665.48px;top:21.10px;font-size:23px;color:#161a20;font-weight:bold;transform:scaleX(0.8889);">Mos?</div>
<div class="t" id="sub" style="left:8.00px;top:51.90px;font-size:19.5px;color:#3f4652;transform:scaleX(1.0014);">Tioltingl-Fas Seaocd phay Vietnman, Pooes in Gride</div>
<div class="t" id="brand" style="left:811.55px;top:20.50px;font-size:15px;color:#3b65a8;-webkit-text-stroke:0.6px #3b65a8;letter-spacing:1.0px;transform:scaleX(1.0584);">RAFITMALVA</div>
<div class="t" id="btntext" style="left:938.95px;top:19.50px;font-size:13px;color:#ffffff;-webkit-text-stroke:0.3px #ffffff;transform:scaleX(0.7612);">I4aBc:hoi.___ro</div>
<div class="t" id="p7" style="left:213.07px;top:384.50px;font-size:27px;color:#103e62;-webkit-text-stroke:0.9px #103e62;transform:scaleX(0.9257);">7%</div>
<div class="t" id="p10" style="left:289.06px;top:334.30px;font-size:30.4px;color:#103e62;-webkit-text-stroke:0.9px #103e62;transform:scaleX(1.0808);"><span class="one">1</span>0%</div>
<div class="t" id="p32" style="left:387.47px;top:324.20px;font-size:30.7px;color:#103e62;-webkit-text-stroke:0.9px #103e62;transform:scaleX(1.0667);">32%</div>
<div class="t" id="p62" style="left:481.84px;top:287.40px;font-size:29.7px;color:#103e62;-webkit-text-stroke:0.9px #103e62;transform:scaleX(1.1048);">62%</div>
<div class="t" id="p26" style="left:576.37px;top:250.40px;font-size:32.3px;color:#103e62;-webkit-text-stroke:0.9px #103e62;transform:scaleX(1.0106);">26%</div>
<div class="t" id="p30" style="left:671.40px;top:199.60px;font-size:32.7px;color:#103e62;-webkit-text-stroke:0.9px #103e62;transform:scaleX(1.0107);">30%</div>
<div class="t" id="p14" style="left:766.73px;top:113.70px;font-size:31.7px;color:#103e62;-webkit-text-stroke:0.9px #103e62;transform:scaleX(1.0273);"><span class="one">1</span>4%</div>
<div class="t" id="c1" style="left:214.09px;top:435.90px;font-size:21.5px;color:#3d4756;transform:scaleX(0.9812);">Effe</div>
<div class="t" id="c2" style="left:295.68px;top:435.90px;font-size:21.5px;color:#3d4756;transform:scaleX(0.9938);">Flugid</div>
<div class="t" id="c3" style="left:389.00px;top:435.90px;font-size:21.5px;color:#3d4756;transform:scaleX(0.9150);">Tremio</div>
<div class="t" id="c4" style="left:479.78px;top:435.90px;font-size:21.5px;color:#3d4756;transform:scaleX(0.9711);"><span style="display:inline-block;transform:scaleX(-1)">Ч</span>irкody</div>
<div class="t" id="c5" style="left:578.25px;top:435.90px;font-size:21.5px;color:#3d4756;transform:scaleX(0.9691);">Siopeli</div>
<div class="t" id="c6" style="left:662.12px;top:435.90px;font-size:21.5px;color:#3d4756;transform:scaleX(0.9396);">Fiairouce</div>
<div class="t" id="c7" style="left:769.09px;top:435.90px;font-size:21.5px;color:#3d4756;transform:scaleX(0.9719);">blcaon</div>
<div class="t" id="f1" style="left:8.00px;top:511.30px;font-size:14px;color:#575d66;letter-spacing:-0.4px;transform:scaleX(1.0380);">Viottaiblias.infouces inrnorai: Resjtowrenge, MTP</div>
<div class="t" id="f2" style="left:7.02px;top:532.80px;font-size:14px;color:#575d66;letter-spacing:-0.4px;transform:scaleX(0.9848);">6a.[138hvireshursilophet.oN. his Hr[Mas.co Ill:b(de Nutohaba Miemburw.</div>
<div class="t" id="f3" style="left:7.00px;top:554.50px;font-size:14px;color:#575d66;letter-spacing:-0.4px;transform:scaleX(1.0005);">3 Dosertce rMI12</div>
<div class="t" id="logo" style="left:887.44px;top:528.20px;font-size:24px;color:#1d5b8b;-webkit-text-stroke:0.9px #1d5b8b;transform:scaleX(1.0094);">PedponHoo</div>
</body></html>
